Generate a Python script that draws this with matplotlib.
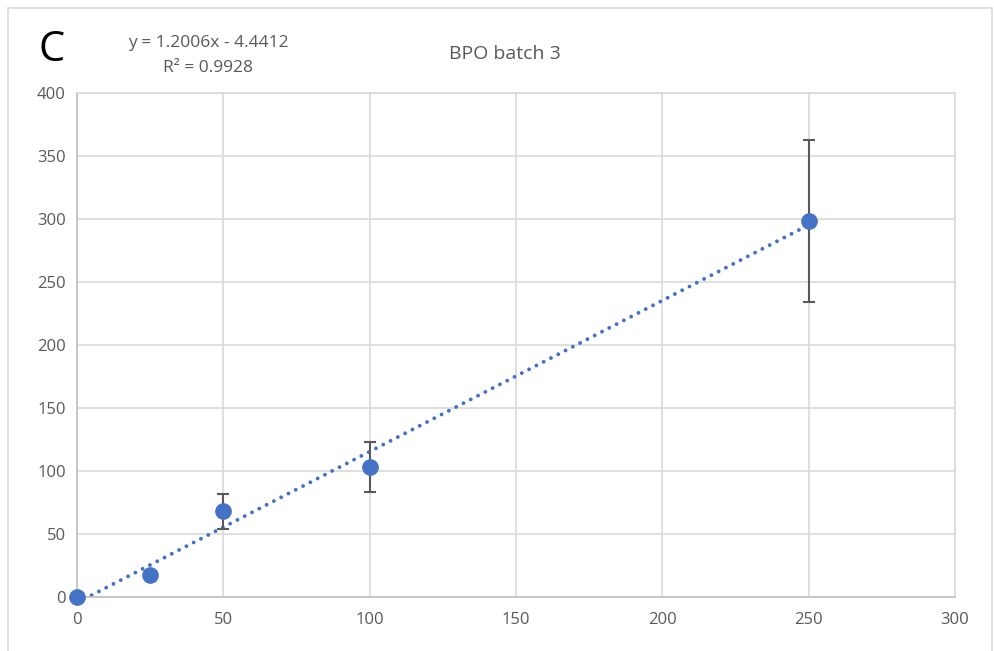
import numpy as np
import matplotlib.pyplot as plt
from matplotlib.patches import Rectangle

# BPO batch 3
x = [0, 25, 50, 100, 250]
y = [0, 17.5, 68, 103, 298.5]
err = [0, 0, 14, 20, 64.5]
xticks = [0, 50, 100, 150, 200, 250, 300]
yticks = [0, 50, 100, 150, 200, 250, 300, 350, 400]

blue = '#4472C4'
grey = '#595959'

plt.rcParams['font.family'] = ['Open Sans', 'DejaVu Sans']

fig = plt.figure(figsize=(9.94, 6.51), dpi=100)
fig.patches.append(Rectangle((8 / 994, -0.05), 0.99, 1.05 - 8 / 651, transform=fig.transFigure,
                             fill=False, edgecolor='#d9d9d9', linewidth=1.2))
ax = fig.add_axes([77 / 994, 1 - 597 / 651, 878 / 994, 504 / 651])

# trendline
k, b = np.polyfit(x, y, 1)
xs = np.array([0, 250])
ax.plot(xs, k * xs + b, linestyle=(0, (0.01, 2.1)), color=blue, linewidth=2.8,
        dash_capstyle='round', zorder=2)

ax.errorbar(x, y, yerr=err, fmt='none', ecolor=grey, elinewidth=1.5, capsize=4.5, capthick=1.5, zorder=3)
ax.plot(x, y, 'o', color=blue, markersize=11, zorder=4, clip_on=False)

ax.set_xlim(0, 300)
ax.set_ylim(0, 400)
ax.set_xticks(xticks)
ax.set_yticks(yticks)
ax.grid(True, color='#d9d9d9', linewidth=1.2)
ax.set_axisbelow(True)
for s in ax.spines.values():
    s.set_color('#d9d9d9')
    s.set_linewidth(1.2)
ax.spines['bottom'].set_color('#bfbfbf')
ax.spines['left'].set_color('#bfbfbf')
ax.tick_params(length=0, labelsize=12, labelcolor=grey, pad=11)
ax.tick_params(axis='y', pad=8)

fig.text(52 / 994, 1 - 50 / 651, 'C', fontsize=30, ha='center', va='center', color='black')
fig.text(208 / 994, 1 - 43 / 651, 'y = 1.2006x - 4.4412', fontsize=12.5, ha='center', va='center', color=grey)
fig.text(208 / 994, 1 - 68 / 651, 'R² = 0.9928', fontsize=12.5, ha='center', va='center', color=grey)
fig.text(505 / 994, 1 - 54 / 651, 'BPO batch 3', fontsize=14, ha='center', va='center', color=grey)

fig.savefig('out.png', dpi=100)
